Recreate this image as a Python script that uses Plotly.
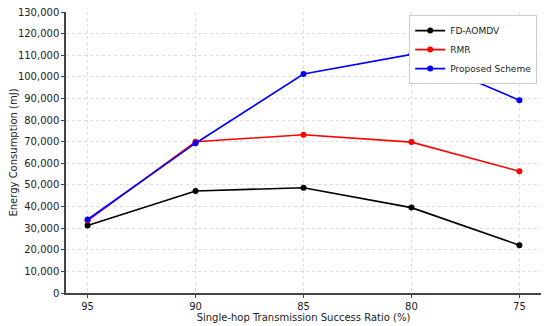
import plotly.graph_objects as go

ratios = [95, 90, 85, 80, 75]
fd_aomdv = [31200, 47200, 48700, 39500, 22100]
rmr = [33500, 70000, 73200, 69800, 56300]
proposed = [34000, 69300, 101300, 110400, 89200]
y_ticks = list(range(0, 130001, 10000))

fig = go.Figure()
for name, vals, col in [("FD-AOMDV", fd_aomdv, "black"), ("RMR", rmr, "red"), ("Proposed Scheme", proposed, "blue")]:
    fig.add_trace(go.Scatter(x=ratios, y=vals, name=name, mode="lines+markers",
                             line=dict(color=col, width=1.6), marker=dict(color=col, size=6)))

font = "DejaVu Sans, Arial, sans-serif"
# the page body has an 8px default margin, so the figure is offset by 8px
fig.update_layout(
    width=542, height=318,
    margin=dict(l=58, r=9, t=4, b=33),
    paper_bgcolor="white", plot_bgcolor="white",
    font=dict(family=font, size=10, color="#222"),
    showlegend=True,
    legend=dict(x=0.992, y=0.989, xanchor="right", yanchor="top", bgcolor="white",
                bordercolor="#cccccc", borderwidth=1, font=dict(size=9, color="#222"),
                itemwidth=30, tracegroupgap=0),
    xaxis=dict(range=[96, 74], tickvals=ratios, ticktext=[str(r) for r in ratios],
               showgrid=True, gridcolor="#dcdcdc", griddash="dot", gridwidth=1,
               showline=True, linecolor="#444", linewidth=1.5, zeroline=False,
               ticks="outside", ticklen=3, tickcolor="#444", automargin=False,
               ticklabeloverflow="allow",
               title=dict(text="Single-hop Transmission Success Ratio (%)", standoff=1, font=dict(size=10))),
    yaxis=dict(range=[0, 130000], tickvals=y_ticks, tickformat=",",
               showgrid=True, gridcolor="#dcdcdc", griddash="dot", gridwidth=1,
               showline=True, linecolor="#444", linewidth=1.5, zeroline=False,
               ticks="outside", ticklen=3, tickcolor="#444", automargin=False,
               ticklabeloverflow="allow",
               title=dict(text="Energy Consumption (mJ)", standoff=2, font=dict(size=10))),
)
fig.write_html("out.html")
